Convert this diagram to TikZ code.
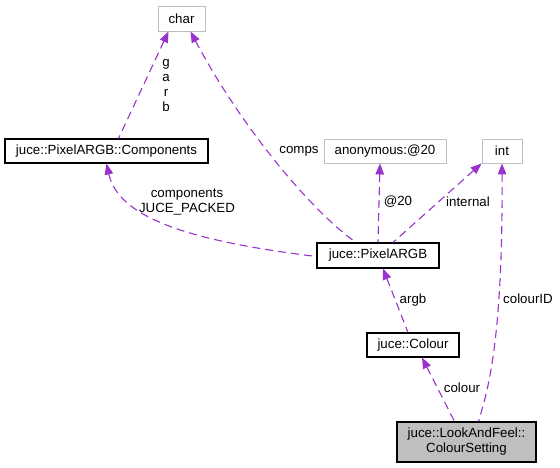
\documentclass[tikz,border=0pt]{standalone}
\usepackage{fontspec}
\setmainfont{Liberation Sans}
\usetikzlibrary{arrows.meta}
\definecolor{edgepurple}{HTML}{9A32CD}
\definecolor{boxgray}{HTML}{BFBFBF}
\begin{document}
\begin{tikzpicture}[x=1pt, y=-1pt, font=\fontsize{13.3}{15}\selectfont,
    cls/.style = {draw=black, line width=1.1pt, fill=white, inner sep=0pt, minimum height=24pt},
    ext/.style = {draw=boxgray, line width=0.9pt, fill=white, inner sep=0pt, minimum height=24pt},
    rel/.style = {draw=edgepurple, line width=1.1pt, dash pattern=on 8pt off 5pt, >={Triangle[length=11pt, width=8.5pt]}},
    lbl/.style = {inner sep=0pt, align=center}]

    \useasboundingbox (0,0) rectangle (560,468);

    \node [ext, minimum width=47pt, minimum height=25pt] (char) at (181.5, 18.5) {char};
    \node [cls, minimum width=203pt] (comp) at (106.5, 151) {juce::PixelARGB::Components};
    \node [ext, minimum width=122pt] (anon) at (385, 151) {anonymous:@20};
    \node [ext, minimum width=40pt] (int) at (502, 151) {int};
    \node [cls, minimum width=122pt, minimum height=25pt] (argb) at (378, 255.5) {juce::PixelARGB};
    \node [cls, minimum width=92pt] (colour) at (413, 345) {juce::Colour};
    \node [cls, fill=boxgray, minimum width=139pt, minimum height=40pt, align=center] (cset) at (466.5, 442) {juce::LookAndFeel::\\ColourSetting};

    \draw[rel, <-] ([xshift=-13pt]char.south) -- ([xshift=12pt]comp.north);
    \draw[rel, <-] ([xshift=9pt]char.south) .. controls (240,125) and (310,210) .. ([xshift=-22pt]argb.north);
    \draw[rel, <-] (comp.south) .. controls (118,215) and (180,240) .. ([yshift=-1pt]argb.west);
    \draw[rel, <-] ([xshift=-5pt]anon.south) -- (argb.north);
    \draw[rel, <-] (int.south west) -- ([xshift=15pt]argb.north);
    \draw[rel, <-] ([xshift=5pt]argb.south) -- ([xshift=-5pt]colour.north);
    \draw[rel, <-] ([xshift=9pt]colour.south) -- ([xshift=-12pt]cset.north);
    \draw[rel, <-] (int.south) .. controls (503,340) and (488,390) .. ([xshift=12pt]cset.north);

    \node [lbl] (lgarb) at (166, 85) {g\\a\\r\\b};
    \node [lbl] (lcomps) at (299, 151) {comps};
    \node [lbl] (lcomp) at (187, 202) {components\\JUCE\_PACKED};
    \node [lbl] (l20) at (398, 202) {@20};
    \node [lbl] (lint) at (468, 202) {internal};
    \node [lbl] (largb) at (413, 300) {argb};
    \node [lbl] (lcol) at (462, 388) {colour};
    \node [lbl] (lcid) at (528, 299) {colourID};

\end{tikzpicture}
\end{document}
